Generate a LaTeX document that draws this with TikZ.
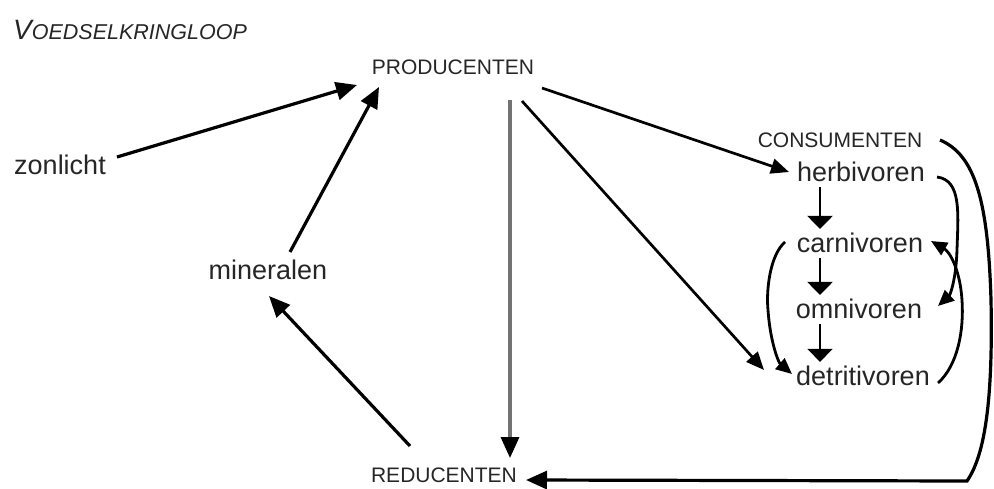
\documentclass[tikz,border=0pt]{standalone}
\usepackage{fontspec}
\setmainfont{Liberation Sans}
\usetikzlibrary{arrows.meta}
\begin{document}
\begin{tikzpicture}[x=1pt,y=-1pt,
  lbl/.style={inner sep=0pt, text=black!85, font=\fontsize{27}{29}\selectfont},
  caps/.style={inner sep=0pt, text=black!85, font=\fontsize{21}{23}\selectfont},
  conn/.style={line width=3.2pt, -{Triangle[length=21pt,width=18pt]}},
  thinconn/.style={line width=2.7pt, -{Triangle[length=18pt,width=15pt]}},
  curveconn/.style={line width=2.8pt, -{Triangle[length=16pt,width=14pt]}},
  downconn/.style={line width=2.8pt, -{Triangle[length=13pt,width=25pt]}}]
\path[use as bounding box] (0,0) rectangle (994,488);
% title
\node[inner sep=0pt, anchor=west, text=black!85] (title) at (13,30)
  {\itshape\fontsize{28}{30}\selectfont V\fontsize{21.5}{23}\selectfont OEDSELKRINGLOOP};
% nodes
\node[caps] (prod) at (453,67) {PRODUCENTEN};
\node[caps] (cons) at (840,140) {CONSUMENTEN};
\node[caps] (red) at (444,475) {REDUCENTEN};
\node[lbl] (zon) at (60,165) {zonlicht};
\node[lbl] (min) at (268,270) {mineralen};
\node[lbl] (herb) at (861,172) {herbivoren};
\node[lbl] (carn) at (860,243) {carnivoren};
\node[lbl] (omn) at (859,309) {omnivoren};
\node[lbl] (detr) at (863,376) {detritivoren};
% connector end points
\coordinate (zonS) at (117,157);
\coordinate (prodA) at (357,85);
\coordinate (minS) at (290,252);
\coordinate (prodB) at (379,87);
\coordinate (redS) at (410,446);
\coordinate (minE) at (269,296);
\coordinate (prodC) at (510,100);
\coordinate (redN) at (510,458);
\coordinate (prodD) at (522,101);
\coordinate (detrW) at (764,370);
\coordinate (prodE) at (542,88);
\coordinate (herbW) at (789,172);
\coordinate (consE) at (940,140);
\coordinate (redE) at (526,480);
\coordinate (herbE) at (937,177);
\coordinate (omnE) at (938,306);
\coordinate (detrE) at (938,383);
\coordinate (carnE) at (931,241);
\coordinate (carnW) at (785,242);
\coordinate (detrW2) at (792,374);
% straight connectors
\draw[conn] (zonS) -- (prodA);
\draw[conn] (minS) -- (prodB);
\draw[conn] (redS) -- (minE);
\draw[line width=3.4pt, draw=black!55, -{Triangle[length=21pt,width=18pt,color=black]}] (prodC) -- (redN);
\draw[thinconn] (prodD) -- (detrW);
\draw[thinconn] (prodE) -- (herbW);
% consumer chain
\draw[downconn] ([yshift=-5pt]herb.south -| 820,0) -- ([yshift=4pt]carn.north -| 820,0);
\draw[downconn] ([yshift=-5pt]carn.south -| 820,0) -- ([yshift=4pt]omn.north -| 820,0);
\draw[downconn, line width=2pt] ([yshift=-5pt]omn.south -| 820,0) -- ([yshift=4pt]detr.north -| 820,0);
% curved connectors
\draw[conn] (consE) .. controls (975,155) and (988,200) .. (991,300)
  .. controls (993,400) and (985,455) .. (967,481) -- (redE);
\draw[curveconn] (herbE) .. controls (962,180) and (958,215) .. (957,250)
  .. controls (956,280) and (950,295) .. (omnE);
\draw[curveconn] (detrE) .. controls (958,365) and (964,330) .. (962,300)
  .. controls (960,270) and (950,252) .. (carnE);
\draw[curveconn] (carnW) .. controls (770,255) and (766,290) .. (768,310)
  .. controls (770,340) and (778,362) .. (detrW2);
\end{tikzpicture}
\end{document}
